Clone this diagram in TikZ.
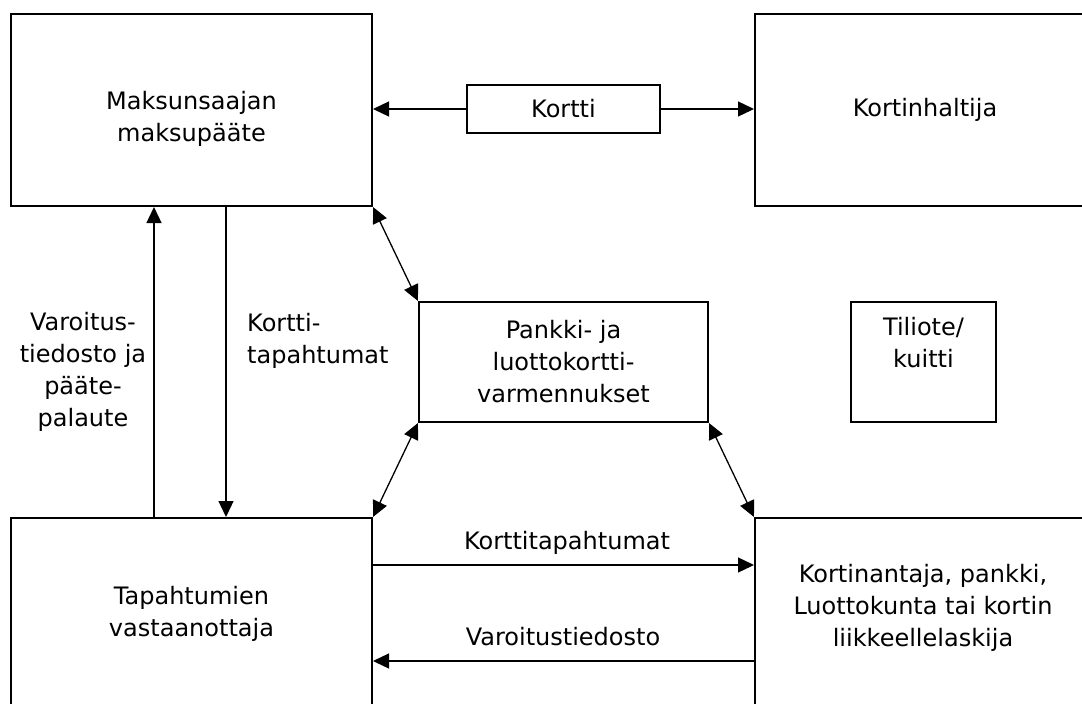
\documentclass[tikz,border=0pt]{standalone}
\usepackage{fontspec}
\setmainfont{DejaVu Sans}
\usetikzlibrary{arrows.meta}

\begin{document}
\begin{tikzpicture}[x=1pt,y=-1pt,
  every node/.style={font=\fontsize{24pt}{32pt}\selectfont},
  box/.style={draw,line width=2pt,align=center,inner sep=0pt},
  lbl/.style={inner sep=0pt},
  arr/.style={line width=1.3pt,-{Triangle[length=16pt,width=15pt]}},
  darr/.style={line width=1.3pt,{Triangle[length=16pt,width=15pt]}-{Triangle[length=16pt,width=15pt]}}]
\path[use as bounding box,clip] (0,0) rectangle (1082,704);
% boxes
\node[box,minimum width=361,minimum height=192] (maks) at (191.5,110) {};
\node[lbl,align=center] (makstxt) at (191.5,119) {Maksunsaajan\\maksupääte};
\node[box,minimum width=340,minimum height=192] (khal) at (925,110) {Kortinhaltija};
\node[box,minimum width=193,minimum height=48] (kortti) at (563.5,109) {Kortti};
\node[box,minimum width=289,minimum height=120] (pankki) at (563.5,362) {Pankki- ja\\luottokortti-\\varmennukset};
\node[box,minimum width=145,minimum height=120] (tili) at (923.5,362) {};
\node[lbl,align=center] (tilitxt) at (923.5,343) {Tiliote/\\kuitti};
\node[box,minimum width=361,minimum height=192] (tap) at (191.5,614) {Tapahtumien\\vastaanottaja};
\node[box,minimum width=340,minimum height=192] (kant) at (925,614) {};
\node[lbl,align=center] (kanttxt) at (923,608) {Kortinantaja, pankki,\\Luottokunta tai kortin\\liikkeellelaskija};
% connectors
\draw[arr] (kortti.west) -- (kortti.west -| maks.east);
\draw[arr] (kortti.east) -- (kortti.east -| khal.west);
\draw[darr] (maks.south east) -- (pankki.north west);
\draw[darr] (pankki.south west) -- (tap.north east);
\draw[darr] (pankki.south east) -- (kant.north west);
\draw[arr] ([xshift=144pt]tap.north west) -- ([xshift=144pt]maks.south west);
\draw[arr] ([xshift=216pt]maks.south west) -- ([xshift=216pt]tap.north west);
\draw[arr] ([yshift=-48pt]tap.north east) -- ([yshift=-48pt]kant.north west);
\draw[arr] ([yshift=-144pt]kant.north west) -- ([yshift=-144pt]tap.north east);
% labels
\node[lbl] (lblkt) at (567,543) {Korttitapahtumat};
\node[lbl] (lblvar) at (563,637) {Varoitustiedosto};
\node[lbl,align=center] (lblvarp) at (83,372) {Varoitus-\\tiedosto ja\\pääte-\\palaute};
\node[lbl,align=left,anchor=west] (lblkort) at (247,341) {Kortti-\\tapahtumat};
\end{tikzpicture}
\end{document}
